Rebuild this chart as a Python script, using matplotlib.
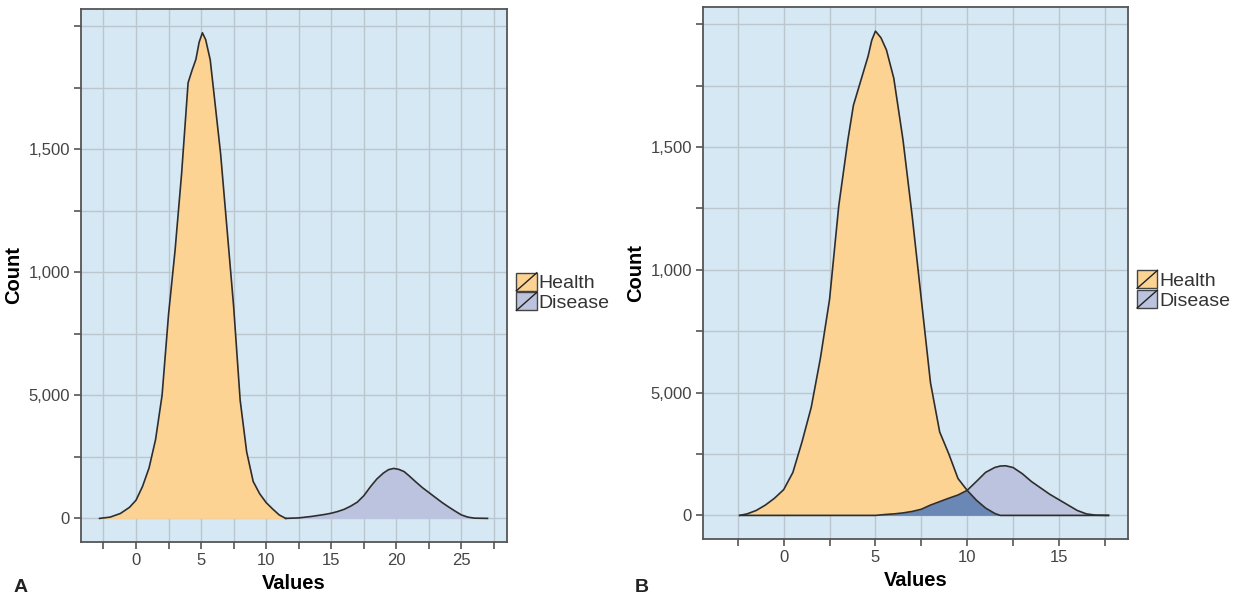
import numpy as np
import matplotlib
matplotlib.use("Agg")
import matplotlib.pyplot as plt
from matplotlib.patches import Rectangle, Patch
from matplotlib.lines import Line2D
from matplotlib.legend_handler import HandlerPatch

plt.rcParams['font.family'] = ['Liberation Sans', 'DejaVu Sans']

# Panel A: two separate distributions
health_a_x = [-2.8, -2.0, -1.2, -0.5, 0.0, 0.5, 1.0, 1.5, 2.0, 2.5, 3.0, 3.5, 4.0, 4.3,
              4.6, 4.85, 5.1, 5.35, 5.7, 6.0, 6.5, 7.0, 7.5, 8.0, 8.5, 9.0, 9.5, 10.0,
              10.5, 11.0, 11.5]
health_a_y = [0, 5, 20, 45, 74, 130, 205, 320, 500, 830, 1090, 1400, 1770, 1820,
              1865, 1935, 1973, 1945, 1863, 1720, 1480, 1170, 860, 480, 270, 150, 100,
              64, 38, 14, 0]
disease_a_x = [11.5, 12.5, 13.5, 14.5, 15.0, 15.5, 16.0, 16.5, 17.0, 17.5, 18.0, 18.5,
               19.0, 19.4, 19.8, 20.2, 20.6, 21.0, 21.5, 22.0, 22.5, 23.0, 23.5, 24.0,
               24.5, 25.0, 25.5, 26.0, 27.0]
disease_a_y = [0, 2, 8, 16, 21, 28, 37, 50, 66, 92, 128, 160, 184, 198, 203, 199, 190,
               172, 148, 125, 105, 85, 65, 47, 30, 14, 5, 1, 0]

# Panel B: overlapping distributions on a shared x grid
values_b = [-2.4, -2.0, -1.5, -1.0, -0.5, 0.0, 0.5, 1.0, 1.5, 2.0, 2.5, 3.0, 3.5, 3.8,
            4.2, 4.6, 4.8, 5.0, 5.3, 5.6, 6.0, 6.5, 7.0, 7.5, 8.0, 8.5, 9.0, 9.5, 10.0,
            10.5, 11.0, 11.5, 11.8, 12.1, 12.5, 13.0, 13.5, 14.0, 14.5, 15.0, 15.5,
            16.0, 16.5, 17.0, 17.7]
health_b = [0, 6, 20, 42, 70, 105, 175, 300, 440, 640, 880, 1260, 1530, 1670,
            1770, 1870, 1935, 1972, 1945, 1895, 1780, 1530, 1220, 880, 540, 340, 250,
            150, 102, 62, 30, 8, 0, 0, 0, 0, 0, 0, 0, 0, 0, 0, 0, 0, 0]
disease_b = [0, 0, 0, 0, 0, 0, 0, 0, 0, 0, 0, 0, 0, 0,
             0, 0, 0, 0, 2, 4, 6, 10, 16, 25, 42, 56, 70, 83, 102, 138,
             175, 195, 201, 202, 195, 170, 138, 112, 86, 64, 42, 20, 6, 1, 0]

y_ticks = [0, 250, 500, 750, 1000, 1250, 1500, 1750, 2000]
y_tick_labels = ['0', '', '5,000', '', '1,000', '', '1,500', '', '']
legend_labels = ['Health', 'Disease']

health_color = '#fdd394'
disease_color = '#bcc3de'
overlap_color = '#6b87b5'
bg_color = '#d6e8f3'
line_color = '#2e2e2e'


class HandlerSlash(HandlerPatch):
    def create_artists(self, legend, orig_handle, xdescent, ydescent, width, height,
                       fontsize, trans):
        x0, y0 = -xdescent, -ydescent
        rect = Rectangle((x0, y0), width, height, facecolor=orig_handle.get_facecolor(),
                         edgecolor='#444444', lw=1.0, transform=trans)
        line = Line2D([x0, x0 + width], [y0, y0 + height], color='#222222', lw=1.0,
                      transform=trans)
        return [rect, line]


def style_axes(ax, xlim, xticks, xlabels):
    ax.set_facecolor(bg_color)
    ax.set_xlim(*xlim)
    ax.set_ylim(-96, 2070)
    ax.set_xticks(xticks)
    ax.set_xticklabels(xlabels)
    ax.set_yticks(y_ticks)
    ax.set_yticklabels(y_tick_labels)
    ax.grid(True, color='#bcc6ce', lw=1.0)
    ax.set_axisbelow(True)
    for s in ax.spines.values():
        s.set_color('#555555')
        s.set_linewidth(1.3)
    ax.tick_params(direction='out', length=5, width=1.2, color='#555555',
                   labelsize=12, labelcolor='#444444', pad=3)
    ax.set_xlabel('Values', fontsize=14.5, fontweight='bold', labelpad=4)
    ax.set_ylabel('Count', fontsize=14.5, fontweight='bold', labelpad=4)
    handles = [Patch(facecolor=health_color), Patch(facecolor=disease_color)]
    ax.legend(handles, legend_labels, loc='upper left', bbox_to_anchor=(1.022, 0.505),
              frameon=False, fontsize=14, handlelength=1.05, handleheight=1.05,
              handletextpad=0.1, labelspacing=0.0, borderpad=0, borderaxespad=0,
              labelcolor='#333333', handler_map={Patch: HandlerSlash()})


fig = plt.figure(figsize=(12.42, 5.97), dpi=100)
ax_a = fig.add_axes([0.0652, 0.0921, 0.343, 0.893])
ax_b = fig.add_axes([0.566, 0.0972, 0.342, 0.891])

# Panel A
ax_a.fill_between(health_a_x, health_a_y, color=health_color, lw=0, zorder=2)
ax_a.fill_between(disease_a_x, disease_a_y, color=disease_color, lw=0, zorder=2)
ax_a.plot(health_a_x, health_a_y, color=line_color, lw=1.2, zorder=3)
ax_a.plot(disease_a_x, disease_a_y, color=line_color, lw=1.2, zorder=3)
xt_a = np.arange(-2.5, 28.0, 2.5)
style_axes(ax_a, (-4.23, 28.5), xt_a,
           [f'{v:g}' if v % 5 == 0 else '' for v in xt_a])

# Panel B
health_b = np.array(health_b)
disease_b = np.array(disease_b)
ax_b.fill_between(values_b, health_b, color=health_color, lw=0, zorder=2)
ax_b.fill_between(values_b, disease_b, color=disease_color, lw=0, zorder=2)
ax_b.fill_between(values_b, np.minimum(health_b, disease_b), color=overlap_color,
                  lw=0, zorder=2)
ax_b.plot(values_b, health_b, color=line_color, lw=1.2, zorder=3)
ax_b.plot(values_b, disease_b, color=line_color, lw=1.2, zorder=3)
xt_b = np.arange(-2.5, 18.0, 2.5)
style_axes(ax_b, (-4.4, 18.75), xt_b,
           [f'{v:g}' if v % 5 == 0 else '' for v in xt_b])

fig.text(0.0105, 0.008, 'A', fontsize=14, fontweight='bold', color='#222222')
fig.text(0.511, 0.008, 'B', fontsize=14, fontweight='bold', color='#222222')

fig.savefig('out.png', dpi=100)
